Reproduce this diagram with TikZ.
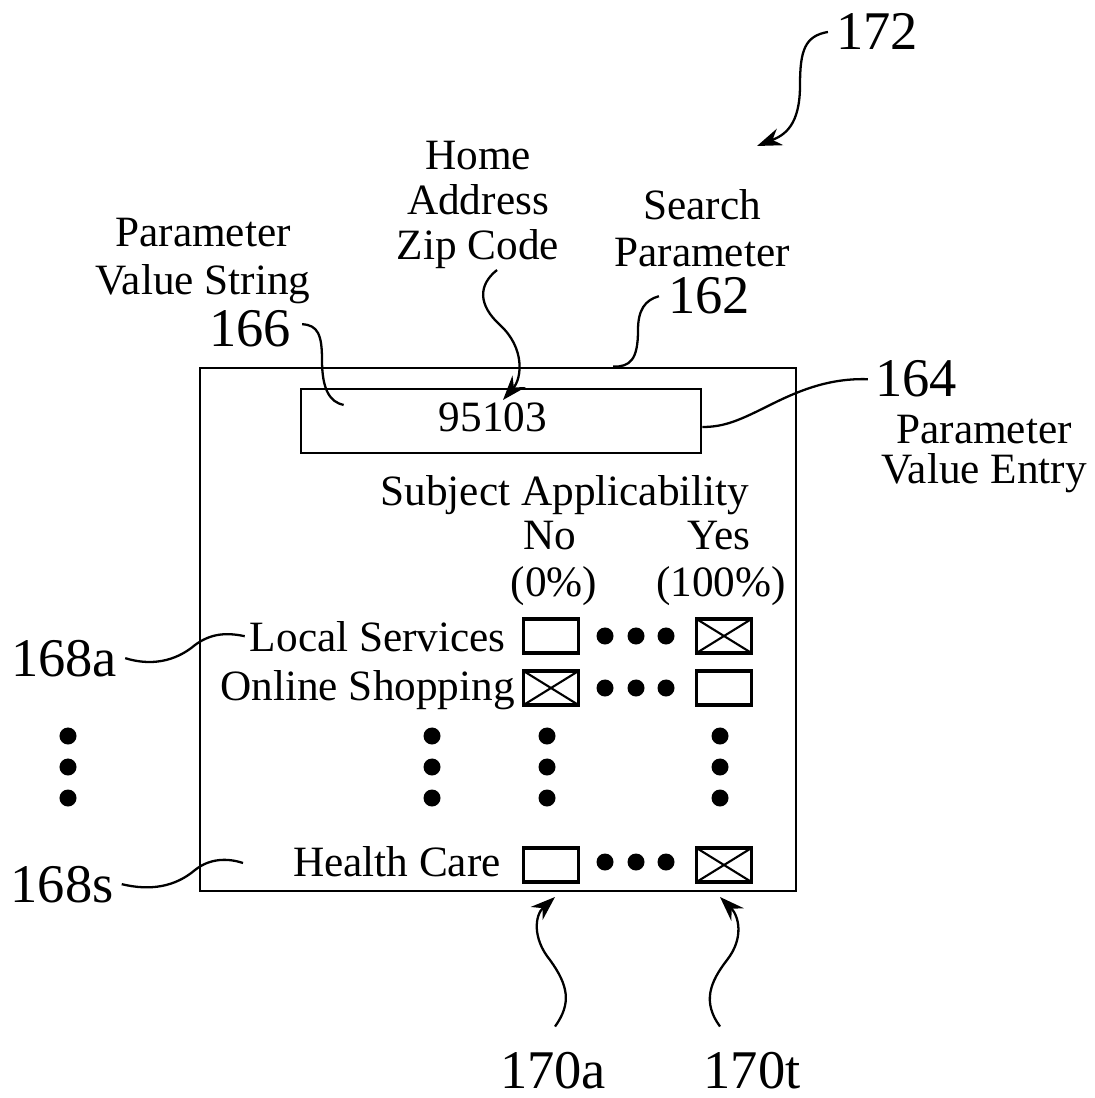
\documentclass[tikz,border=0pt]{standalone}
\usepackage{fontspec}
\setmainfont{Liberation Serif}
\usetikzlibrary{arrows.meta}

\begin{document}
\begin{tikzpicture}[
    x=0.01cm, y=-0.01cm,
    line width=0.7pt,
    lbl/.style={font=\fontsize{12.3}{13}\selectfont, inner sep=0pt, align=center},
    refnum/.style={font=\fontsize{15.5}{16}\selectfont, inner sep=0pt, anchor=base},
    lead/.style={line width=0.65pt},
    curarrow/.style={lead, -{Stealth[length=7pt, width=5pt]}},
    chk/.style={draw, line width=0.9pt, minimum width=0.55cm, minimum height=0.34cm, inner sep=0pt},
    chkx/.style={chk, path picture={
        \draw[line width=0.6pt] (path picture bounding box.north west) -- (path picture bounding box.south east)
          (path picture bounding box.south west) -- (path picture bounding box.north east);}}
  ]
  \useasboundingbox (0,0) rectangle (1094,1098);

  % screen frame and entry field
  \node[draw, minimum width=5.96cm, minimum height=5.23cm, inner sep=0pt] (frame) at (498,629.5) {};
  \node[draw, minimum width=4cm, minimum height=0.64cm, inner sep=0pt] (entry) at (501,421) {};
  \node[lbl, anchor=base] (zipval) at (493,432) {95103};

  % labels
  \node[lbl, anchor=north, font=\fontsize{12.3}{12.8}\selectfont] (zip) at (478,140) {Home\\Address\\Zip Code};
  \node[lbl, anchor=north, font=\fontsize{12.3}{13.6}\selectfont] (pvs) at (203,217) {Parameter\\Value String};
  \node[lbl, anchor=north, font=\fontsize{12.3}{13.4}\selectfont] (srch) at (702,188) {Search\\Parameter};
  \node[lbl, anchor=north, font=\fontsize{12.3}{11.4}\selectfont] (pve) at (984,414) {Parameter\\Value Entry};
  \node[lbl, anchor=base] (subj) at (565,505) {Subject Applicability};
  \node[lbl, anchor=base] (no) at (550,550) {No};
  \node[lbl, anchor=base] (yes) at (719,550) {Yes};
  \node[lbl, anchor=base] (pno) at (554,596) {(0\%)};
  \node[lbl, anchor=base] (pyes) at (721,596) {(100\%)};
  \node[lbl, anchor=base east] (lsv) at (507,651) {Local Services};
  \node[lbl, anchor=base east] (osh) at (516,700) {Online Shopping};
  \node[lbl, anchor=base east] (hcr) at (502,876) {Health Care};

  % reference numerals
  \node[refnum] (n172) at (877,50) {172};
  \node[refnum] (n166) at (250,347) {166};
  \node[refnum] (n162) at (709,314) {162};
  \node[refnum] (n164) at (916,397) {164};
  \node[refnum] (n168a) at (64,676) {168a};
  \node[refnum] (n168s) at (62,902) {168s};
  \node[refnum] (n170a) at (553,1088) {170a};
  \node[refnum] (n170t) at (752,1088) {170t};

  % check boxes
  \node[chk]  (ls0) at (551,636) {};
  \node[chkx] (ls1) at (724,636) {};
  \node[chkx] (os0) at (551,688) {};
  \node[chk]  (os1) at (724,688) {};
  \node[chk]  (hc0) at (551,865) {};
  \node[chkx] (hc1) at (724,865) {};

  % dots
  \foreach \y in {636,688,862}
    \foreach \x in {605,636,666}
      \fill (\x,\y) circle[radius=0.085cm];
  \foreach \x in {68,432,547,720}
    \foreach \y in {736,767,798}
      \fill (\x,\y) circle[radius=0.085cm];

  \coordinate (t172) at (757,146);
  \coordinate (r168s) at (243,863);

  % leaders
  \draw[curarrow] ([xshift=-0.07cm]n172.west) .. controls (805,36) and (800,50) .. (800,85)
    .. controls (800,125) and (785,135) .. (t172);
  \draw[curarrow] ([xshift=0.19cm]zip.south) .. controls (478,285) and (478,305) .. (500,325)
    .. controls (525,348) and (522,378) .. ([shift={(2,-21)}]entry.center);
  \draw[lead] ([shift={(10,-5)}]n166.east) .. controls (318,325) and (322,335) .. (322,360)
    .. controls (322,390) and (330,402) .. ([shift={(44,-16)}]entry.west);
  \draw[lead] ([xshift=-0.08cm]n162.west) .. controls (645,300) and (638,310) .. (638,330)
    .. controls (638,360) and (630,367) .. ([xshift=1.15cm]frame.north);
  \draw[lead] ([xshift=-0.06cm]n164.west) .. controls (830,378) and (800,390) .. (770,405)
    .. controls (740,420) and (725,427) .. ([yshift=-0.06cm]entry.east);
  \draw[lead] ([xshift=0.07cm]n168a.east) .. controls (150,666) and (175,662) .. (195,645)
    .. controls (210,634) and (225,632) .. ([xshift=-0.04cm]lsv.west);
  \draw[lead] ([xshift=0.07cm]n168s.east) .. controls (150,891) and (175,887) .. (195,870)
    .. controls (210,858) and (228,858) .. (r168s);
  \draw[curarrow] ([shift={(2,-24)}]n170a.north) .. controls (572,1003) and (568,985) .. (550,960)
    .. controls (532,938) and (535,915) .. ([shift={(4,32)}]hc0.center);
  \draw[curarrow] ([shift={(-32,-24)}]n170t.north) .. controls (702,1002) and (710,982) .. (727,960)
    .. controls (745,937) and (738,915) .. ([shift={(-4,32)}]hc1.center);
\end{tikzpicture}
\end{document}
